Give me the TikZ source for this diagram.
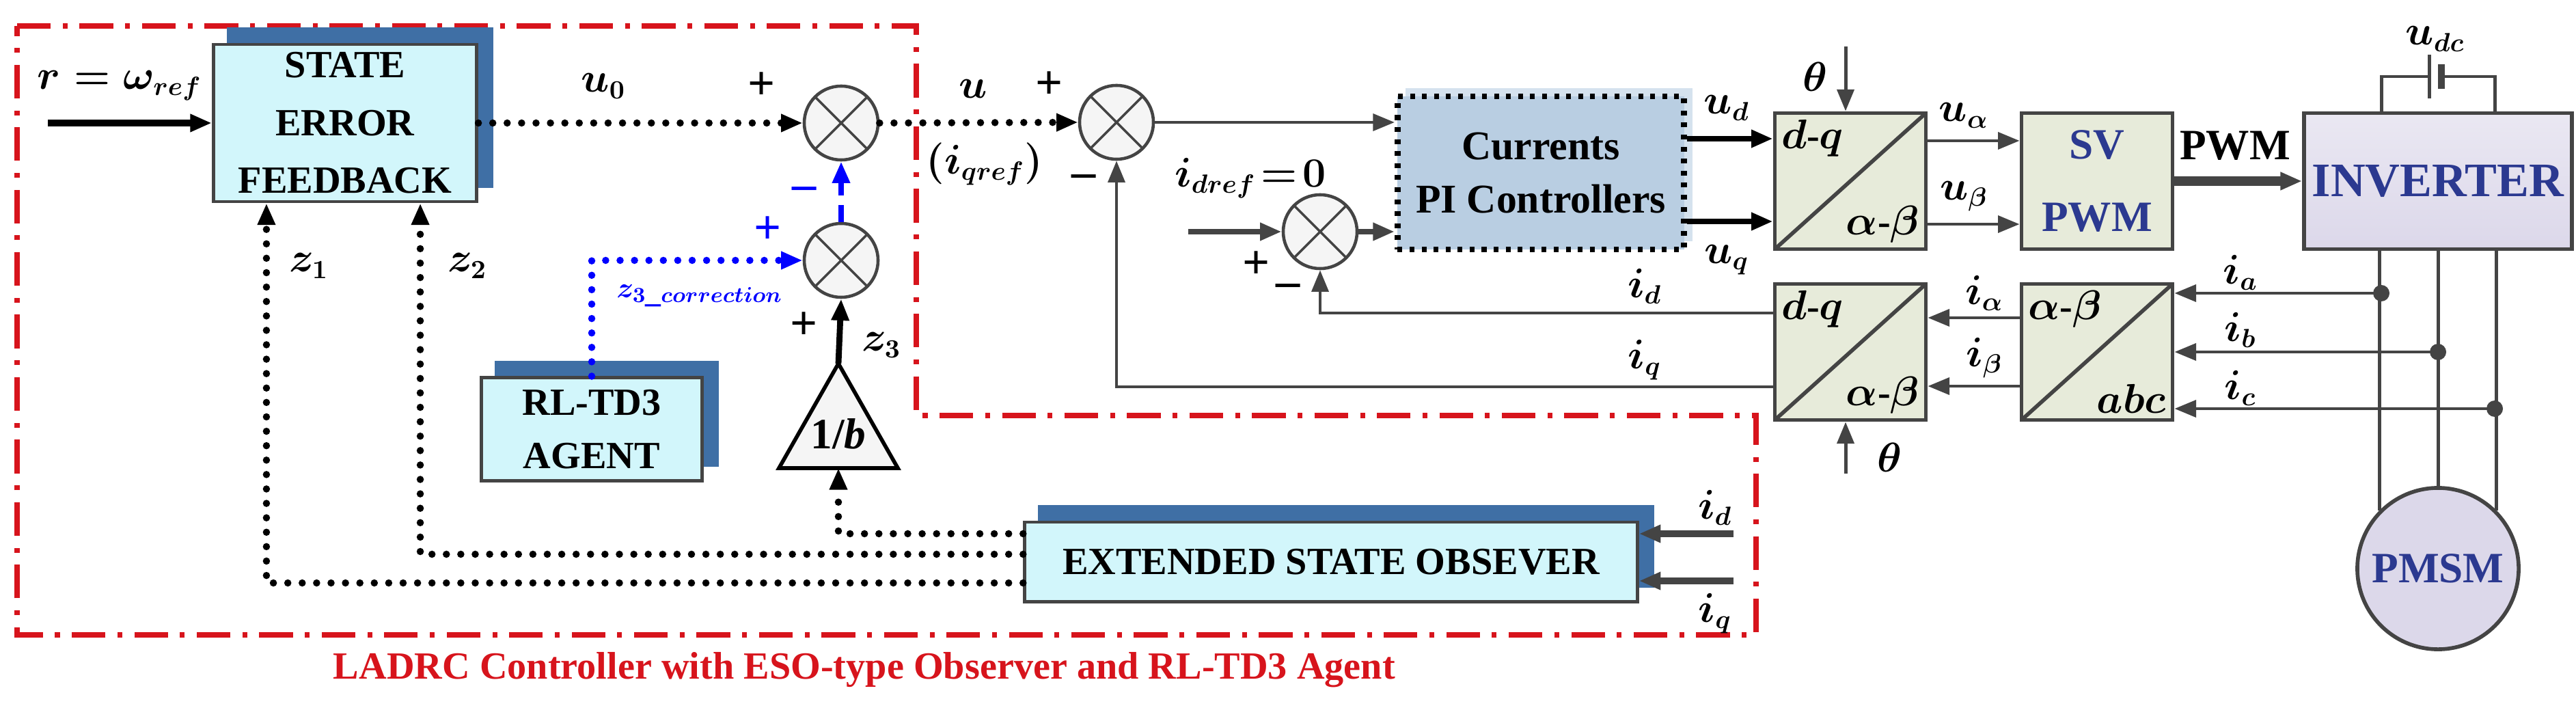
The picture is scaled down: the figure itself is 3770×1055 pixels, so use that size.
\documentclass[tikz,border=0pt]{standalone}
\usepackage{fontspec}
\setmainfont{Liberation Serif}
\usetikzlibrary{arrows.meta,positioning,calc,shadows}
\definecolor{eback}{HTML}{D2F6FB}
\definecolor{eshade}{HTML}{3F6FA5}
\definecolor{piback}{HTML}{B9CEE2}
\definecolor{tback}{HTML}{E7EBDA}
\definecolor{invback}{HTML}{DCD8EA}
\definecolor{tblue}{HTML}{2B3990}
\definecolor{ladrc}{HTML}{D7141C}
\definecolor{gline}{HTML}{444444}
\begin{document}
\begin{tikzpicture}[x=0.01cm,y=-0.01cm,>={Triangle[length=9pt,width=7pt]}]
        \tikzset{
            lbl/.style={font=\fontsize{16}{18}\selectfont\bfseries\boldmath},
            sgn/.style={font=\fontsize{20}{22}\selectfont\bfseries},
            eblock/.style={
                draw=gline, line width=1.4pt, fill=eback, align=center,
                font=\fontsize{16}{24}\selectfont\bfseries,
                copy shadow={shadow xshift=0.22cm, shadow yshift=0.22cm,
                    fill=eshade, draw=eshade}
            },
            tblock/.style={
                draw=gline, line width=1.6pt, fill=tback,
                minimum width=2.21cm, minimum height=1.99cm
            },
            slash/.style={path picture={\draw[gline, line width=1.6pt]
                (path picture bounding box.south west) -- (path picture bounding box.north east);}},
            sum/.style={
                draw=gline, line width=1.3pt, circle, fill=gray!8,
                minimum size=1.08cm, path picture={
                    \draw[gline, line width=1pt]
                        (path picture bounding box.north west) -- (path picture bounding box.south east)
                        (path picture bounding box.south west) -- (path picture bounding box.north east);}
            },
            sig/.style={line width=3pt, line cap=round, dash pattern=on 0pt off 6pt, ->},
            wire/.style={draw=gline, line width=1.4pt},
        }
        \useasboundingbox (0,0) rectangle (3770,1055);
        %% LADRC frame
        \draw[ladrc, line width=2.5pt, dash pattern=on 14pt off 5pt on 2pt off 5pt]
            (25,38) -- (1341,38) -- (1341,608) -- (2570,608) -- (2570,929) -- (25,929) -- cycle;
        \node[text=ladrc, font=\fontsize{16}{18}\selectfont\bfseries] (title) at (1265,980)
            {LADRC Controller with ESO-type Observer and RL-TD3 Agent};
        %% blocks
        \node[eblock, minimum width=3.85cm, minimum height=2.2cm] (sef) at (505,180)
            {STATE\\ERROR\\FEEDBACK};
        \node[eblock, minimum width=3.23cm, minimum height=1.5cm, font=\fontsize{16}{22}\selectfont\bfseries] (agent) at (866,628)
            {RL-TD3\\AGENT};
        \node[eblock, minimum width=8.96cm, minimum height=1.16cm] (eso) at (1948,822)
            {EXTENDED STATE OBSEVER};
        \node[draw, line width=2.5pt, dash pattern=on 2pt off 3pt, fill=piback, align=center,
              minimum width=4.19cm, minimum height=2.24cm, font=\fontsize{17}{22}\selectfont\bfseries,
              copy shadow={shadow xshift=0.12cm, shadow yshift=0.12cm, fill=piback!60, draw=none}]
            (pi) at (2255,253) {Currents\\PI Controllers};
        \node[sum] (s1) at (1231,180) {};
        \node[sum] (s3) at (1231,381) {};
        \node[sum] (s2) at (1634,179) {};
        \node[sum] (s4) at (1932,339) {};
        %% gain 1/b
        \draw[line width=1.6pt, fill=gray!8] (1227,532) -- (1314,685) -- (1140,685) -- cycle;
        \coordinate (gtop) at (1227,532);
        \coordinate (gbot) at (1227,685);
        \node[font=\fontsize{18}{20}\selectfont\bfseries] (gain) at (1227,635) {1/\textit{b}};
        %% motor side
        \node[tblock, slash] (dq1) at (2708,265) {};
        \node[tblock, slash] (dq2) at (2708,515) {};
        \node[tblock, slash] (abc) at (3069,515) {};
        \node[tblock, align=center, text=tblue, font=\fontsize{18}{30}\selectfont\bfseries] (sv) at (3069,265) {SV\\PWM};
        \node[draw=gline, line width=1.6pt, top color=invback!60, bottom color=invback, text=tblue,
              minimum width=3.85cm, minimum height=1.99cm, font=\fontsize{20}{22}\selectfont\bfseries] (inv) at (3568,265) {INVERTER};
        \node[draw=gline, line width=1.6pt, circle, fill=invback, minimum size=2.36cm, text=tblue,
              font=\fontsize{18}{20}\selectfont\bfseries] (pmsm) at (3568,832) {PMSM};
        \node[lbl, anchor=north west] at (dq1.north west) {$d$-$q$};
        \node[lbl, anchor=south east] at (dq1.south east) {$\alpha$-$\beta$};
        \node[lbl, anchor=north west] at (dq2.north west) {$d$-$q$};
        \node[lbl, anchor=south east] at (dq2.south east) {$\alpha$-$\beta$};
        \node[lbl, anchor=north west] at (abc.north west) {$\alpha$-$\beta$};
        \node[lbl, anchor=south east] at (abc.south east) {$abc$};
        %% paths
        \coordinate (rin) at (70,180);
        \draw[line width=3pt, ->] (rin) -- (sef.west);
        \draw[sig] (sef.east) -- (s1.west);
        \draw[sig] (s1.east) -- (s2.west);
        \draw[blue, sig] (agent.north) |- (s3.west);
        \draw[blue, line width=2.5pt, dash pattern=on 7pt off 4pt, ->] (s3.north) -- (s1.south);
        \draw[line width=2.5pt, ->] (gtop) -- (s3.south);
        \draw[sig] ([yshift=0.41cm]eso.west) -| (gbot);
        \draw[sig] ([yshift=0.11cm]eso.west) -| ([xshift=1.1cm]sef.south);
        \draw[sig] ([yshift=-0.31cm]eso.west) -| ([xshift=-1.15cm]sef.south);
        \coordinate (idE) at (2537,781);
        \coordinate (iqE) at (2537,850);
        \draw[wire, line width=3pt, ->] (idE) -- (idE -| eso.east);
        \draw[wire, line width=3pt, ->] (iqE) -- (iqE -| eso.east);
        \draw[wire, ->] (s2.east) -- (s2.east -| pi.west);
        \coordinate (idin) at (1739,339);
        \draw[wire, line width=2.5pt, ->] (idin) -- (s4.west);
        \draw[wire, line width=2.5pt, ->] (s4.east) -- (s4.east -| pi.west);
        \draw[line width=2.5pt, ->] ([yshift=0.5cm]pi.east) -- ([yshift=0.5cm]pi.east -| dq1.west);
        \draw[line width=2.5pt, ->] ([yshift=-0.71cm]pi.east) -- ([yshift=-0.71cm]pi.east -| dq1.west);
        \draw[wire, ->] ([yshift=0.59cm]dq1.east) -- ([yshift=0.59cm]dq1.east -| sv.west);
        \draw[wire, ->] ([yshift=-0.63cm]dq1.east) -- ([yshift=-0.63cm]dq1.east -| sv.west);
        \draw[wire, line width=4pt, ->] (sv.east) -- (inv.west);
        \draw[wire, ->] ([yshift=0.5cm]abc.west) -- ([yshift=0.5cm]abc.west -| dq2.east);
        \draw[wire, ->] ([yshift=-0.5cm]abc.west) -- ([yshift=-0.5cm]abc.west -| dq2.east);
        \draw[wire, ->] ([yshift=0.57cm]dq2.west) -| (s4.south);
        \draw[wire, ->] ([yshift=-0.51cm]dq2.west) -| (s2.south);
        \coordinate (th1) at (2701,68);
        \coordinate (th2) at (2701,693);
        \draw[wire, ->] (th1) -- (th1 |- dq1.north);
        \draw[wire, ->] (th2) -- (th2 |- dq2.south);
        %% inverter wiring
        \coordinate (ja) at (3485,429);
        \coordinate (jb) at (3568,515);
        \coordinate (jc) at (3651,598);
        \draw[wire] (inv.south -| pmsm.135) -- (pmsm.135);
        \draw[wire] (inv.south) -- (pmsm.north);
        \draw[wire] (inv.south -| pmsm.45) -- (pmsm.45);
        \foreach \j in {ja,jb,jc} {
            \fill[gline] (\j) circle (0.12cm);
            \draw[wire, ->] (\j) -- (\j -| abc.east);
        }
        \coordinate (bat) at (3564,112);
        \draw[wire] (inv.north -| ja) |- ([xshift=-0.09cm]bat);
        \draw[wire] ([xshift=0.09cm]bat) -| (inv.north -| jc);
        \draw[gline, line width=1.4pt] ([xshift=-0.09cm,yshift=-0.32cm]bat) -- ([xshift=-0.09cm,yshift=0.32cm]bat);
        \draw[gline, line width=3pt] ([xshift=0.09cm,yshift=-0.18cm]bat) -- ([xshift=0.09cm,yshift=0.18cm]bat);
        %% labels
        \node[lbl] at (175,125) {$r=\omega_{ref}$};
        \node[lbl] at (883,126) {$u_0$};
        \node[sgn] at (1115,126) {+};
        \node[sgn, text=blue] at (1177,283) {--};
        \node[sgn, text=blue] at (1124,337) {+};
        \node[lbl, text=blue, font=\fontsize{13}{15}\selectfont\bfseries\boldmath] at (1024,433) {$z_{3\_correction}$};
        \node[sgn] at (1177,477) {+};
        \node[lbl] at (1290,505) {$z_3$};
        \node[lbl] at (452,389) {$z_1$};
        \node[lbl] at (684,389) {$z_2$};
        \node[lbl] at (1424,130) {$u$};
        \node[lbl] at (1441,240) {$(i_{qref})$};
        \node[sgn] at (1536,125) {+};
        \node[sgn] at (1586,265) {--};
        \node[lbl] at (1830,261) {$i_{dref}\!=\!0$};
        \node[sgn] at (1839,388) {+};
        \node[sgn] at (1885,425) {--};
        \node[lbl] at (2527,158) {$u_d$};
        \node[lbl] at (2527,380) {$u_q$};
        \node[lbl] at (2407,419) {$i_d$};
        \node[lbl] at (2407,527) {$i_q$};
        \node[lbl] at (2656,112) {$\theta$};
        \node[lbl] at (2765,669) {$\theta$};
        \node[lbl] at (2874,169) {$u_\alpha$};
        \node[lbl] at (2874,287) {$u_\beta$};
        \node[lbl] at (2904,429) {$i_\alpha$};
        \node[lbl] at (2904,524) {$i_\beta$};
        \node[font=\fontsize{18}{20}\selectfont\bfseries] at (3271,213) {PWM};
        \node[lbl] at (3564,57) {$u_{dc}$};
        \node[lbl] at (3279,399) {$i_a$};
        \node[lbl] at (3279,483) {$i_b$};
        \node[lbl] at (3279,568) {$i_c$};
        \node[lbl] at (2510,743) {$i_d$};
        \node[lbl] at (2510,898) {$i_q$};
\end{tikzpicture}
\end{document}
